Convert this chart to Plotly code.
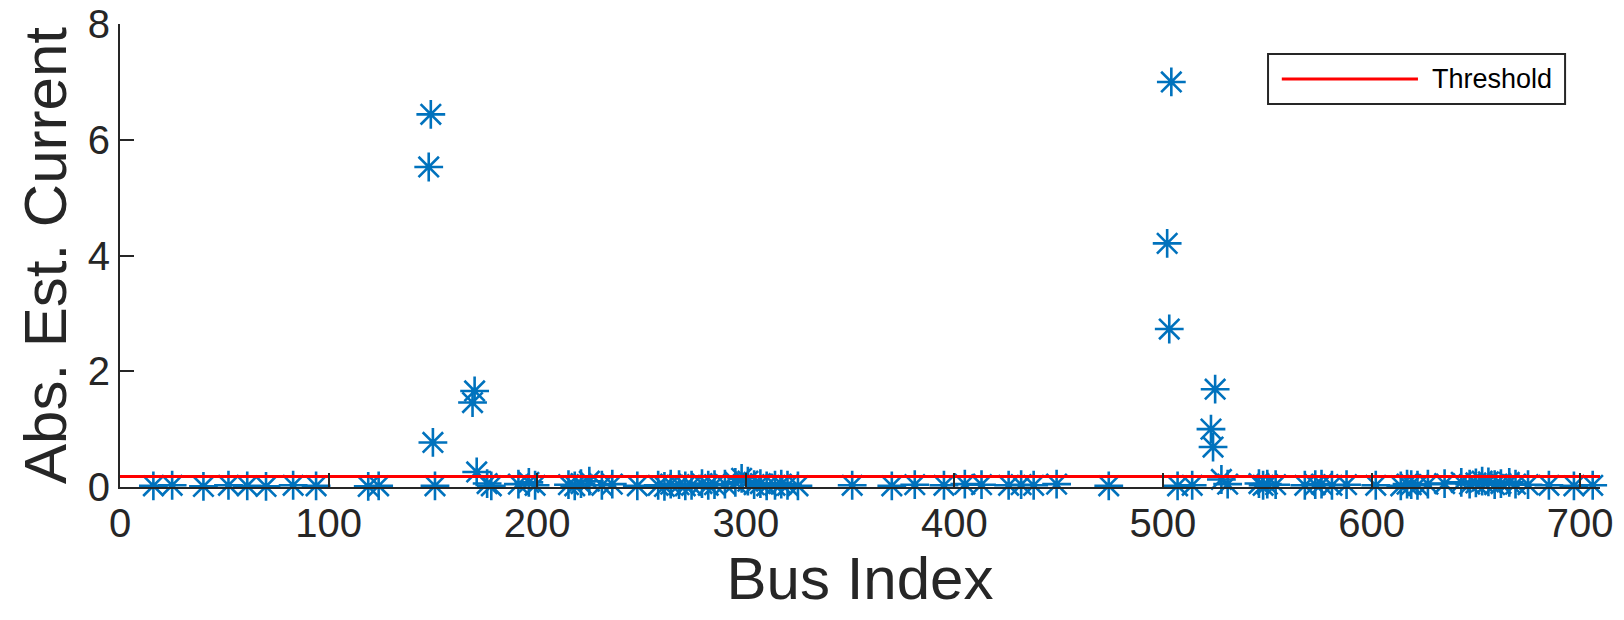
import plotly.graph_objects as go

# Bus indices and absolute estimated currents
bus_index = [
    16, 25, 40, 52, 61, 70, 83, 94, 119, 124,
    148, 149, 150, 151, 169, 170, 171, 176, 178, 191, 196, 199,
    215, 218, 221, 225, 231, 236, 248, 258, 261, 264, 268, 271, 274, 279, 282, 285,
    290, 295, 298, 301, 304, 307, 310, 314, 317, 320, 325, 351, 370, 381, 395, 405, 413, 426,
    432, 438, 449, 474, 502, 503, 504, 507, 514, 523, 524, 525, 528, 531,
    546, 548, 550, 554, 568, 573,
    576, 581, 588, 602, 614, 617, 619, 622, 627, 635, 643, 647, 650, 653, 656, 659, 662, 666, 669, 675,
    685, 697, 706,
]
abs_current = [
    0.02, 0.03, 0.01, 0.03, 0.02, 0.01, 0.03, 0.02, 0.01, 0.02,
    5.53, 6.44, 0.77, 0.02, 1.46, 1.66, 0.26, 0.06, 0.02, 0.05, 0.08, 0.03,
    0.04, 0.02, 0.06, 0.10, 0.03, 0.05, 0.02, 0.03, 0.01, 0.05, 0.04, 0.02, 0.03, 0.06, 0.03, 0.04,
    0.05, 0.08, 0.15, 0.10, 0.04, 0.06, 0.02, 0.03, 0.05, 0.03, 0.02, 0.03, 0.02, 0.04, 0.03, 0.05, 0.04, 0.03,
    0.04, 0.03, 0.05, 0.02, 4.21, 2.73, 7.00, 0.02, 0.03, 1.00, 0.69, 1.69, 0.13, 0.05,
    0.06, 0.03, 0.05, 0.04, 0.03, 0.04,
    0.05, 0.03, 0.04, 0.03, 0.02, 0.05, 0.04, 0.03, 0.05, 0.06, 0.08, 0.05, 0.07, 0.10, 0.09, 0.04, 0.06, 0.08, 0.05, 0.04,
    0.03, 0.02, 0.03,
]

threshold = 0.18
x_limits = [0, 709.5]
y_limits = [0, 8.001]
x_ticks = [0, 100, 200, 300, 400, 500, 600, 700]
y_ticks = [0, 2, 4, 6, 8]

blue = "#0072BD"
ink = "#262626"
font_family = "Liberation Sans, Arial, sans-serif"

fig = go.Figure()

fig.add_trace(go.Scatter(
    x=bus_index,
    y=abs_current,
    mode="markers",
    marker=dict(symbol="asterisk-open", size=24, color=blue,
                line=dict(color=blue, width=2.6)),
    cliponaxis=False,
    showlegend=False,
    hoverinfo="x+y",
))

fig.add_trace(go.Scatter(
    x=[x_limits[0], x_limits[1]],
    y=[threshold, threshold],
    mode="lines",
    line=dict(color="#FF0000", width=3),
    name="Threshold",
    showlegend=False,
))

# Legend box drawn in paper coordinates
fig.add_shape(type="rect", xref="paper", yref="paper",
              x0=0.7757, x1=0.9764, y0=0.827, y1=0.935,
              line=dict(color=ink, width=2), fillcolor="white", layer="above")
fig.add_shape(type="line", xref="paper", yref="paper",
              x0=0.785, x1=0.877, y0=0.881, y1=0.881,
              line=dict(color="#FF0000", width=3), layer="above")
fig.add_annotation(text="Threshold", xref="paper", yref="paper",
                   x=0.885, y=0.881, xanchor="left", yanchor="middle",
                   showarrow=False,
                   font=dict(family=font_family, size=27, color="black"))

fig.update_layout(
    width=1624,
    height=620,
    margin=dict(l=120, r=24, t=24, b=133),
    paper_bgcolor="white",
    plot_bgcolor="white",
    font=dict(family=font_family, color=ink),
    showlegend=False,
    xaxis=dict(
        range=x_limits,
        tickvals=x_ticks,
        ticks="inside",
        ticklen=14,
        tickwidth=2,
        tickcolor=ink,
        showline=True,
        linecolor=ink,
        linewidth=2,
        mirror=False,
        showgrid=False,
        zeroline=False,
        automargin=False,
        tickfont=dict(size=40, color=ink),
        title=dict(text="Bus Index", font=dict(size=60, color=ink), standoff=10),
    ),
    yaxis=dict(
        range=y_limits,
        tickvals=y_ticks,
        ticks="inside",
        ticklen=14,
        tickwidth=2,
        tickcolor=ink,
        showline=True,
        linecolor=ink,
        linewidth=2,
        mirror=False,
        showgrid=False,
        zeroline=False,
        automargin=False,
        tickfont=dict(size=40, color=ink),
        title=dict(text="Abs. Est. Current", font=dict(size=60, color=ink), standoff=2),
    ),
)

fig.write_html("out.html")
